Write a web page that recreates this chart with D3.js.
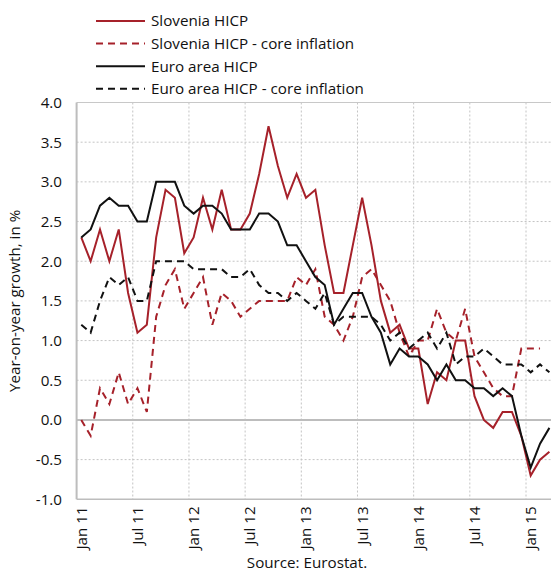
<!DOCTYPE html>
<html>
<head>
<meta charset="utf-8">
<script src="https://cdn.jsdelivr.net/npm/d3@7"></script>
<style>
  body { margin: 0; background: #fff; }
  svg { display: block; font-family: "Open Sans", sans-serif; }
</style>
</head>
<body>
<div id="chart"></div>
<script>
// monthly, Jan 2011 .. Mar 2015
const startYear = 2011;
const monthCount = 51;

const sloveniaHicp = [
  2.3, 2.0, 2.4, 2.0, 2.4, 1.6, 1.1, 1.2, 2.3, 2.9, 2.8, 2.1,
  2.3, 2.8, 2.4, 2.9, 2.4, 2.4, 2.6, 3.1, 3.7, 3.2, 2.8, 3.1,
  2.8, 2.9, 2.2, 1.6, 1.6, 2.2, 2.8, 2.2, 1.5, 1.1, 1.2, 0.9,
  0.9, 0.2, 0.6, 0.5, 1.0, 1.0, 0.3, 0.0, -0.1, 0.1, 0.1, -0.2,
  -0.7, -0.5, -0.4
];
const sloveniaCore = [
  0.0, -0.2, 0.4, 0.2, 0.6, 0.2, 0.4, 0.1, 1.3, 1.7, 1.9, 1.4,
  1.6, 1.8, 1.2, 1.6, 1.5, 1.3, 1.4, 1.5, 1.5, 1.5, 1.5, 1.8,
  1.7, 1.9, 1.3, 1.2, 1.0, 1.3, 1.8, 1.9, 1.7, 1.5, 1.1, 0.8,
  1.0, 1.0, 1.4, 1.1, 1.0, 1.4, 0.8, 0.6, 0.4, 0.3, 0.3, 0.9,
  0.9, 0.9
];
const euroHicp = [
  2.3, 2.4, 2.7, 2.8, 2.7, 2.7, 2.5, 2.5, 3.0, 3.0, 3.0, 2.7,
  2.6, 2.7, 2.7, 2.6, 2.4, 2.4, 2.4, 2.6, 2.6, 2.5, 2.2, 2.2,
  2.0, 1.8, 1.7, 1.2, 1.4, 1.6, 1.6, 1.3, 1.1, 0.7, 0.9, 0.8,
  0.8, 0.7, 0.5, 0.7, 0.5, 0.5, 0.4, 0.4, 0.3, 0.4, 0.3, -0.2,
  -0.6, -0.3, -0.1
];
const euroCore = [
  1.2, 1.1, 1.5, 1.8, 1.7, 1.8, 1.5, 1.5, 2.0, 2.0, 2.0, 2.0,
  1.9, 1.9, 1.9, 1.9, 1.8, 1.8, 1.9, 1.7, 1.6, 1.6, 1.5, 1.6,
  1.5, 1.4, 1.6, 1.2, 1.3, 1.3, 1.3, 1.3, 1.2, 1.0, 1.1, 0.9,
  1.0, 1.1, 0.9, 1.1, 0.7, 0.8, 0.8, 0.9, 0.8, 0.7, 0.7, 0.7,
  0.6, 0.7, 0.6
];

const yTicks = [-1.0, -0.5, 0.0, 0.5, 1.0, 1.5, 2.0, 2.5, 3.0, 3.5, 4.0];
const monthNames = ["Jan", "Feb", "Mar", "Apr", "May", "Jun",
                    "Jul", "Aug", "Sep", "Oct", "Nov", "Dec"];

const series = [
  { label: "Slovenia HICP", values: sloveniaHicp, color: "#a6212a", dash: null },
  { label: "Slovenia HICP - core inflation", values: sloveniaCore, color: "#a6212a", dash: "7,5" },
  { label: "Euro area HICP", values: euroHicp, color: "#111", dash: null },
  { label: "Euro area HICP - core inflation", values: euroCore, color: "#111", dash: "7,5" }
];

const months = d3.range(monthCount);
const monthLabel = (i) =>
  `${monthNames[i % 12]} ${String((startYear + Math.floor(i / 12)) % 100).padStart(2, "0")}`;

const totalWidth = 551, totalHeight = 574;
const margin = { top: 102.5, left: 76.6, bottom: 74.7 };
const step = 9.3625;
const plotBottom = totalHeight - margin.bottom;
const fontSize = "15.2px";

const svg = d3.select("#chart").append("svg")
  .attr("width", totalWidth)
  .attr("height", totalHeight);

const x = d3.scaleBand()
  .domain(months)
  .range([margin.left, margin.left + step * monthCount])
  .padding(0);

const y = d3.scaleLinear().domain([-1, 4]).range([plotBottom, margin.top]);

const xc = (i) => x(i) + x.bandwidth() / 2;
const xRight = margin.left + step * monthCount;

// horizontal dotted grid
svg.append("g")
  .selectAll("line")
  .data(yTicks.filter((t) => t !== 0 && t !== -1 && t !== 4))
  .join("line")
  .attr("x1", margin.left).attr("x2", xRight)
  .attr("y1", (d) => y(d)).attr("y2", (d) => y(d))
  .style("stroke", "#c4c4c4")
  .style("stroke-width", 1)
  .style("stroke-dasharray", "2,2");

// vertical dotted grid at Jan / Jul
svg.append("g")
  .selectAll("line")
  .data(months.filter((i) => i % 6 === 0 && i > 0))
  .join("line")
  .attr("x1", (d) => x(d)).attr("x2", (d) => x(d))
  .attr("y1", margin.top).attr("y2", plotBottom)
  .style("stroke", "#c4c4c4")
  .style("stroke-width", 1)
  .style("stroke-dasharray", "2,2");

// frame
svg.append("line")
  .attr("x1", margin.left).attr("x2", xRight)
  .attr("y1", y(4)).attr("y2", y(4))
  .style("stroke", "#c8c8c8").style("stroke-width", 1);
svg.append("line")
  .attr("x1", margin.left).attr("x2", xRight)
  .attr("y1", y(-1)).attr("y2", y(-1))
  .style("stroke", "#bdbdbd").style("stroke-width", 1.5);
svg.append("line")
  .attr("x1", margin.left).attr("x2", xRight)
  .attr("y1", y(0)).attr("y2", y(0))
  .style("stroke", "#bdbdbd").style("stroke-width", 2);
svg.append("line")
  .attr("x1", margin.left).attr("x2", margin.left)
  .attr("y1", y(4)).attr("y2", y(-1))
  .style("stroke", "#bdbdbd").style("stroke-width", 2);

// y tick labels
svg.append("g")
  .selectAll("text")
  .data(yTicks)
  .join("text")
  .attr("x", 62)
  .attr("y", (d) => y(d))
  .attr("dy", "0.36em")
  .style("text-anchor", "end")
  .style("font-size", fontSize)
  .style("fill", "#111")
  .text((d) => d.toFixed(1));

// x tick labels, rotated
svg.append("g")
  .selectAll("text")
  .data(months.filter((i) => i % 6 === 0))
  .join("text")
  .attr("transform", (d) => `translate(${xc(d)},${plotBottom + 7}) rotate(-90)`)
  .attr("dy", "0.36em")
  .style("text-anchor", "end")
  .style("font-size", fontSize)
  .style("fill", "#111")
  .text(monthLabel);

// y title
svg.append("text")
  .attr("transform", `translate(15,${(margin.top + plotBottom) / 2}) rotate(-90)`)
  .attr("dy", "0.36em")
  .style("text-anchor", "middle")
  .style("font-size", fontSize)
  .style("fill", "#111")
  .text("Year-on-year growth, in %");

// source
svg.append("text")
  .attr("x", 307)
  .attr("y", 568)
  .style("text-anchor", "middle")
  .style("font-size", fontSize)
  .style("fill", "#111")
  .text("Source: Eurostat.");

// series lines
const line = d3.line()
  .x((d, i) => xc(i))
  .y((d) => y(d));

svg.append("g")
  .selectAll("path")
  .data(series)
  .join("path")
  .attr("d", (s) => line(s.values))
  .style("fill", "none")
  .style("stroke", (s) => s.color)
  .style("stroke-width", 2)
  .style("stroke-linejoin", "miter")
  .style("stroke-dasharray", (s) => s.dash);

// legend
const legend = svg.append("g")
  .selectAll("g")
  .data(series)
  .join("g")
  .attr("transform", (d, i) => `translate(96,${21 + i * 22.6})`);

legend.append("line")
  .attr("x1", 0).attr("x2", 49)
  .style("stroke", (d) => d.color)
  .style("stroke-width", 2)
  .style("stroke-dasharray", (d) => d.dash);

legend.append("text")
  .attr("x", 55)
  .attr("dy", "0.36em")
  .style("font-size", fontSize)
  .style("fill", "#111")
  .text((d) => d.label);
</script>
</body>
</html>
